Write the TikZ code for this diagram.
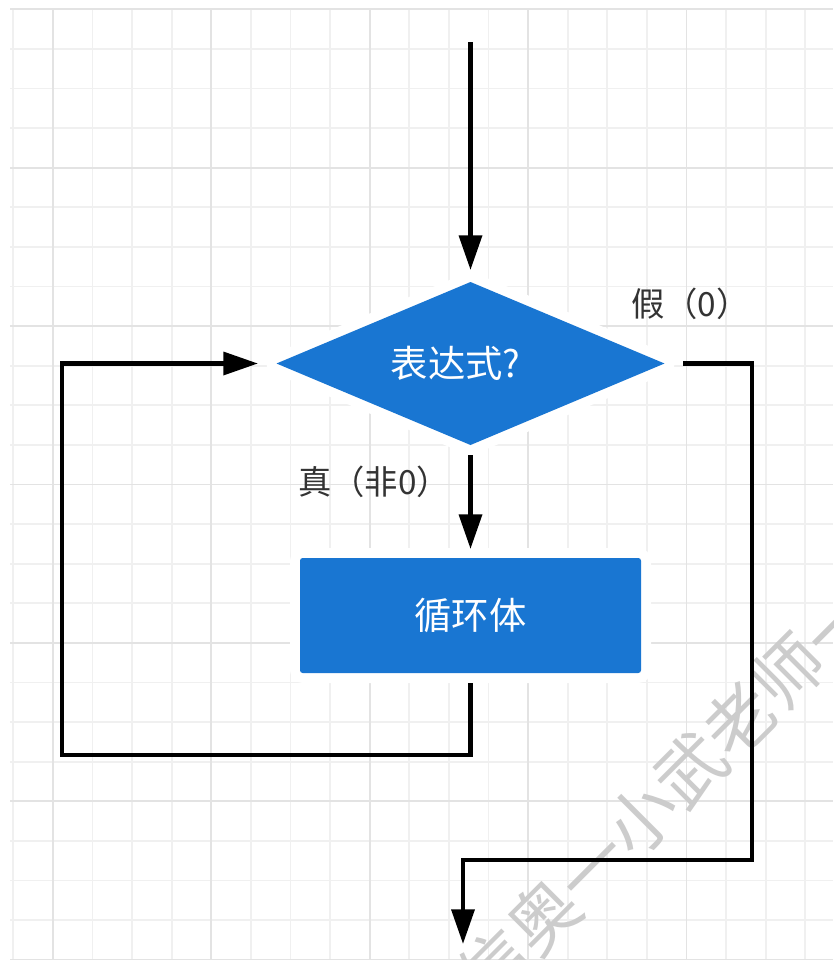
\documentclass[tikz,border=0pt]{standalone}
\usepackage{fontspec}
\newfontfamily\cjk{Noto Sans CJK SC}
\usetikzlibrary{arrows.meta,shapes.geometric}
\definecolor{flowblue}{HTML}{1976D2}
\definecolor{gridminor}{HTML}{F0F0F0}
\definecolor{gridmajor}{HTML}{E3E3E3}
\definecolor{labelgray}{HTML}{333333}
\definecolor{wmgray}{HTML}{CCCCCC}
\begin{document}
\begin{tikzpicture}[x=0.75pt,y=-0.75pt,
  halo/.style={preaction={draw=white,line width=15pt,line join=round}},
  decision/.style={diamond,aspect=2.38,halo,fill=flowblue,minimum width=291pt,minimum height=122.25pt,inner sep=0pt,outer sep=0pt,text=white,font=\cjk\fontsize{28}{32}\selectfont},
  process/.style={rectangle,rounded corners=2pt,halo,fill=flowblue,minimum width=255.75pt,minimum height=86.25pt,inner sep=0pt,outer sep=0pt,text=white,font=\cjk\fontsize{28}{32}\selectfont},
  branch/.style={text=labelgray,font=\cjk\fontsize{25}{30}\selectfont,inner sep=0pt,anchor=west},
  watermark/.style={text=wmgray,font=\cjk\fontsize{52}{56}\selectfont,inner sep=0pt},
  gminor/.style={draw=gridminor,line width=1.3pt},
  gmajor/.style={draw=gridmajor,line width=1.3pt},
  arr/.style={line width=3.4pt,-{Triangle[length=26pt,width=17pt]}},
]
\useasboundingbox (0,0) rectangle (833,960);
\fill[white] (0,0) rectangle (833,960);
% grid
\foreach \i in {0,...,20} \draw[gminor] ({13.3+39.6*\i},8) -- ({13.3+39.6*\i},960);
\foreach \j in {0,...,24} \draw[gminor] (10,{9.3+39.6*\j}) -- (833,{9.3+39.6*\j});
\foreach \i in {1,5,9,13,17} \draw[gmajor] ({13.3+39.6*\i},8) -- ({13.3+39.6*\i},960);
\foreach \j in {0,4,8,12,16,20,24} \draw[gmajor] (10,{9.3+39.6*\j}) -- (833,{9.3+39.6*\j});
% watermark
\begin{scope}
\clip (0,0) rectangle (833,960);
\node[watermark,rotate=45] (wm) at (666,794) {信奥一小武老师一};
\end{scope}
% shapes
\node[decision] (d) at (470.5,363.5) {表达式?\hspace*{22pt}};
\node[process] (r) at (470.5,615.5) {循环体};
% labels
\node[branch] (lf) at (631,304) {假（0）};
\node[branch] (lt) at (298,482) {真（非0）};
% connectors
\coordinate (start) at (470.5,42);
\coordinate (lb) at (62,755);
\coordinate (rr) at (752,860);
\coordinate (ex) at (463,944);
\draw[arr,shorten >=9pt] (start) -- (d.north);
\draw[arr,shorten <=7.5pt,shorten >=6.75pt] (d.south) -- (r.north);
\draw[arr,shorten <=7.5pt,shorten >=13.9pt] (r.south) |- (lb) |- (d.west);
\draw[arr,shorten <=13.9pt] (d.east) -| (rr) -| (ex);
\end{tikzpicture}
\end{document}
